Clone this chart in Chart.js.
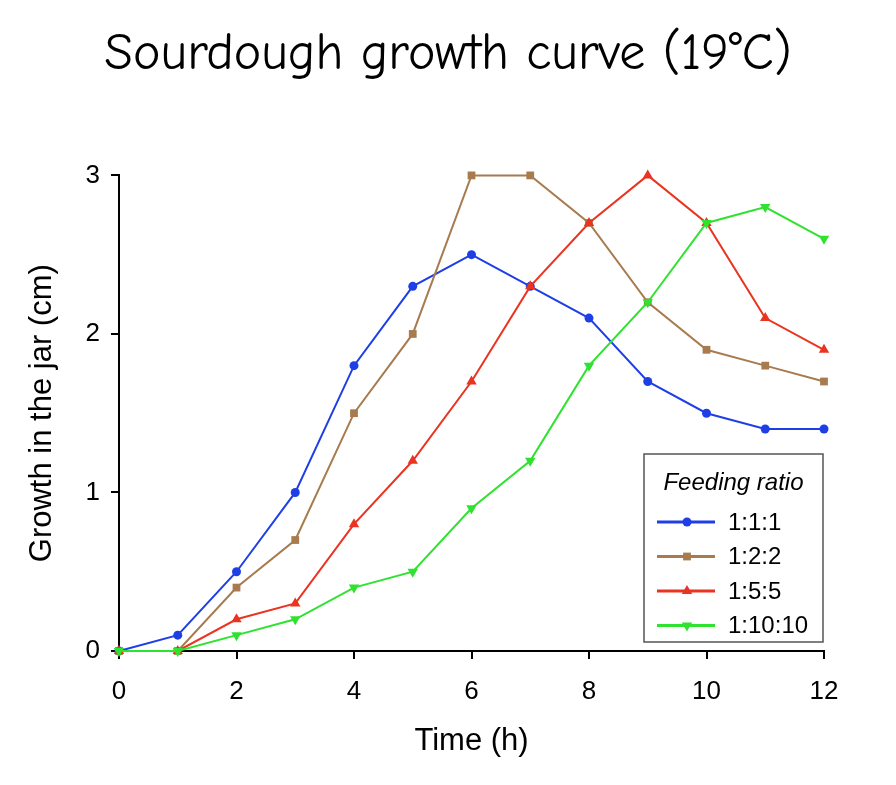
<!DOCTYPE html>
<html>
<head>
<meta charset="utf-8">
<title>Sourdough growth curve</title>
<script src="https://cdn.jsdelivr.net/npm/chart.js"></script>
<style>
  html, body { margin: 0; padding: 0; background: #fff; }
  canvas { display: block; }
</style>
</head>
<body>
<canvas id="growthChart" width="896" height="785"></canvas>
<script>
// hours after feeding
const hours = [0, 1, 2, 3, 4, 5, 6, 7, 8, 9, 10, 11, 12]

// rise in the jar (cm), one array per feeding ratio
const ratio111 = [0, 0.1, 0.5, 1.0, 1.8, 2.3, 2.5, 2.3, 2.1, 1.7, 1.5, 1.4, 1.4]
const ratio122 = [0, 0, 0.4, 0.7, 1.5, 2.0, 3.0, 3.0, 2.7, 2.2, 1.9, 1.8, 1.7]
const ratio155 = [0, 0, 0.2, 0.3, 0.8, 1.2, 1.7, 2.3, 2.7, 3.0, 2.7, 2.1, 1.9]
const ratio11010 = [0, 0, 0.1, 0.2, 0.4, 0.5, 0.9, 1.2, 1.8, 2.2, 2.7, 2.8, 2.6]

const seriesNames = ['1:1:1', '1:2:2', '1:5:5', '1:10:10']
const xTicks = [0, 2, 4, 6, 8, 10, 12]
const yTicks = [0, 1, 2, 3]

const toPoints = (vals) => hours.map((h, i) => ({ x: h, y: vals[i] }))

const styles = [
  { color: '#1f3fe6', pointStyle: 'circle', rotation: 0, radius: 4.5 },
  { color: '#a87b4e', pointStyle: 'rect', rotation: 0, radius: 5.5 },
  { color: '#ea3420', pointStyle: 'triangle', rotation: 0, radius: 6 },
  { color: '#2fe22f', pointStyle: 'triangle', rotation: 180, radius: 6 }
]

const datasets = [ratio111, ratio122, ratio155, ratio11010].map((vals, i) => ({
  label: seriesNames[i],
  data: toPoints(vals),
  borderColor: styles[i].color,
  backgroundColor: styles[i].color,
  borderWidth: 2,
  pointStyle: styles[i].pointStyle,
  pointRotation: styles[i].rotation,
  pointRadius: styles[i].radius,
  pointBorderWidth: 0,
  tension: 0,
  clip: false,
  order: 4 - i // green drawn on top
}))

const font = '"Liberation Sans", Arial, sans-serif'

// boxed legend inside the plot, bottom right
const feedingLegend = {
  id: 'feedingLegend',
  afterDatasetsDraw(chart) {
    const { ctx, chartArea } = chart
    const w = 179
    const h = 188
    const right = chartArea.right - 1
    const bottom = chartArea.bottom - 9
    const left = right - w
    const top = bottom - h
    ctx.save()
    ctx.fillStyle = '#fff'
    ctx.fillRect(left, top, w, h)
    ctx.strokeStyle = '#555'
    ctx.lineWidth = 1.5
    ctx.strokeRect(left, top, w, h)

    ctx.fillStyle = '#000'
    ctx.textBaseline = 'middle'
    ctx.textAlign = 'center'
    ctx.font = 'italic 24px ' + font
    ctx.fillText('Feeding ratio', left + w / 2, top + 29)

    chart.data.datasets.forEach((ds, i) => {
      const y = top + 68 + i * 34.5
      ctx.strokeStyle = ds.borderColor
      ctx.fillStyle = ds.borderColor
      ctx.lineWidth = 3
      ctx.beginPath()
      ctx.moveTo(left + 13, y)
      ctx.lineTo(left + 71, y)
      ctx.stroke()
      Chart.helpers.drawPoint(ctx, {
        pointStyle: ds.pointStyle,
        rotation: ds.pointRotation,
        radius: ds.pointRadius,
        borderWidth: 0
      }, left + 43, y)
      ctx.fillStyle = '#000'
      ctx.textAlign = 'left'
      ctx.font = '24px ' + font
      ctx.fillText(ds.label, left + 84, y + 1)
    })
    ctx.restore()
  }
}

new Chart(document.getElementById('growthChart'), {
  type: 'line',
  data: { datasets },
  plugins: [feedingLegend],
  options: {
    responsive: false,
    animation: false,
    events: [],
    plugins: {
      legend: { display: false },
      tooltip: { enabled: false },
      title: {
        display: true,
        text: 'Sourdough growth curve (19°C)',
        color: '#000',
        font: { family: '"Comic Sans MS", "Comic Neue", cursive', size: 52, weight: 'normal' },
        padding: { top: 23, bottom: 90 }
      }
    },
    scales: {
      x: {
        type: 'linear',
        min: 0,
        max: 12,
        afterFit: (scale) => { scale.height = 134 },
        afterBuildTicks: (scale) => { scale.ticks = xTicks.map(v => ({ value: v })) },
        border: { display: true, color: '#000', width: 2 },
        grid: { display: true, drawOnChartArea: false, drawTicks: true, tickLength: 8, color: '#000', lineWidth: 2 },
        ticks: { color: '#000', padding: 17, font: { family: font, size: 26 } },
        title: {
          display: true,
          text: 'Time (h)',
          color: '#000',
          font: { family: font, size: 31 },
          padding: { top: 0, bottom: 25 }
        }
      },
      y: {
        min: 0,
        max: 3,
        afterFit: (scale) => { scale.width = 119 },
        afterBuildTicks: (scale) => { scale.ticks = yTicks.map(v => ({ value: v })) },
        border: { display: true, color: '#000', width: 2 },
        grid: { display: true, drawOnChartArea: false, drawTicks: true, tickLength: 8, color: '#000', lineWidth: 2 },
        ticks: { color: '#000', padding: 11, font: { family: font, size: 26 } },
        title: {
          display: true,
          text: 'Growth in the jar (cm)',
          color: '#000',
          font: { family: font, size: 31 },
          padding: { top: 24, bottom: 0 }
        }
      },
      // empty right-hand strip so the plot ends at the same place as the reference
      spacer: {
        position: 'right',
        display: true,
        afterFit: (scale) => { scale.width = 72 },
        border: { display: false },
        grid: { display: false },
        ticks: { display: false }
      }
    }
  }
})
</script>
</body>
</html>
